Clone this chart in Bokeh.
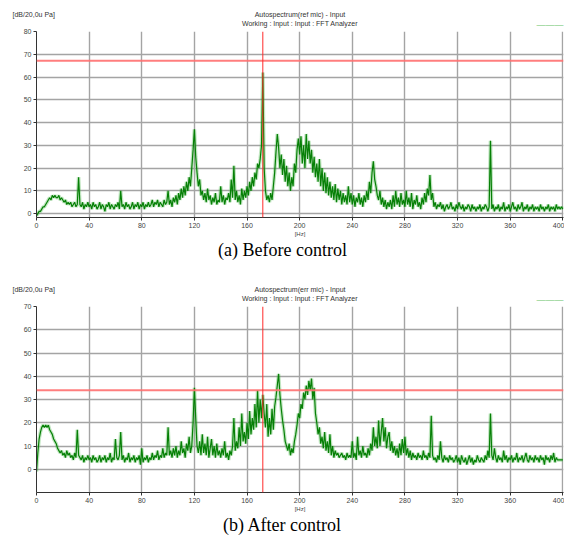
from bokeh.plotting import figure
from bokeh.models import Range1d, FixedTicker, Span, Label
from bokeh.layouts import column
from bokeh.embed import file_html
from bokeh.resources import INLINE

# ---------------- data ----------------
freq_hz = list(range(0, 401))

ref_mic_db = [
    -1, 0, 1, 1, 2, 3, 3, 4, 5, 6, 7, 6, 8, 7, 8, 7, 7, 8, 6, 7,
    6, 5, 6, 4, 5, 4, 5, 3, 4, 5, 3, 4, 16, 4, 3, 5, 2, 4, 3, 5,
    3, 4, 2, 5, 3, 4, 2, 3, 5, 2, 4, 3, 1, 4, 3, 5, 2, 4, 3, 2,
    4, 3, 5, 2, 10, 3, 4, 2, 5, 3, 4, 2, 3, 5, 2, 4, 3, 5, 2, 4,
    3, 5, 2, 4, 3, 5, 3, 4, 6, 3, 5, 4, 6, 3, 5, 4, 3, 6, 4, 5,
    10, 4, 6, 3, 7, 5, 8, 4, 9, 6, 11, 7, 12, 8, 14, 10, 16, 12, 20, 28,
    37, 25, 18, 12, 15, 8, 10, 6, 9, 5, 11, 6, 8, 4, 7, 5, 9, 4, 6, 5,
    12, 5, 8, 4, 7, 6, 9, 5, 15, 7, 21, 6, 10, 5, 8, 4, 11, 6, 10, 7,
    12, 8, 14, 10, 16, 12, 18, 15, 22, 20, 24, 30, 62, 20, 10, 6, 8, 5, 9, 6,
    12, 18, 27, 35, 29, 20, 26, 17, 24, 14, 21, 12, 18, 10, 16, 12, 22, 18, 28, 33,
    26, 34, 22, 30, 20, 35, 24, 32, 22, 28, 18, 25, 16, 22, 14, 24, 12, 20, 10, 18,
    9, 16, 8, 14, 7, 12, 6, 13, 5, 11, 6, 10, 4, 9, 5, 8, 4, 12, 5, 9,
    4, 8, 3, 7, 5, 9, 4, 7, 3, 8, 5, 10, 6, 14, 9, 18, 23, 15, 12, 8,
    6, 10, 4, 7, 3, 6, 2, 5, 3, 6, 2, 8, 3, 10, 4, 7, 3, 9, 4, 6,
    3, 10, 4, 7, 3, 9, 2, 6, 4, 8, 3, 5, 2, 7, 4, 9, 5, 11, 8, 17,
    6, 9, 3, 5, 2, 4, 3, 5, 2, 4, 1, 3, 4, 2, 3, 5, 2, 3, 1, 4,
    2, 5, 3, 2, 4, 1, 3, 2, 4, 3, 1, 4, 2, 3, 1, 3, 2, 4, 1, 3,
    2, 4, 3, 1, 3, 32, 2, 4, 1, 3, 2, 4, 1, 3, 2, 5, 1, 3, 2, 4,
    1, 3, 5, 2, 3, 1, 4, 2, 3, 5, 1, 3, 2, 4, 1, 3, 2, 4, 1, 3,
    2, 3, 1, 4, 2, 3, 1, 3, 2, 4, 1, 3, 2, 3, 1, 4, 2, 3, 2, 3,
    2,
]

err_mic_db = [
    -1, 7, 13, 16, 18, 19, 18, 19, 18, 19, 17, 16, 15, 13, 12, 11, 9, 8, 7, 8,
    6, 7, 5, 8, 6, 7, 5, 6, 4, 7, 5, 17, 6, 5, 4, 6, 3, 5, 4, 6,
    4, 5, 3, 6, 4, 5, 3, 4, 6, 3, 5, 4, 6, 3, 5, 4, 7, 3, 5, 4,
    13, 5, 4, 6, 16, 4, 6, 3, 5, 4, 7, 3, 5, 4, 6, 3, 5, 4, 6, 2,
    9, 3, 5, 4, 6, 3, 5, 4, 7, 4, 6, 5, 8, 4, 6, 5, 9, 5, 7, 6,
    18, 6, 8, 5, 9, 6, 10, 5, 8, 6, 12, 7, 9, 5, 11, 8, 14, 7, 10, 20,
    35, 22, 10, 7, 12, 6, 15, 7, 11, 6, 14, 5, 9, 13, 6, 10, 5, 11, 6, 8,
    5, 9, 6, 12, 5, 7, 4, 8, 6, 10, 22, 8, 12, 9, 18, 10, 24, 12, 16, 11,
    20, 13, 25, 15, 22, 17, 28, 18, 34, 20, 30, 22, 32, 24, 18, 28, 14, 22, 15, 26,
    17, 27, 31, 36, 41, 32, 26, 21, 17, 12, 10, 8, 11, 6, 9, 7, 12, 15, 19, 24,
    22, 28, 26, 33, 30, 36, 32, 38, 34, 39, 30, 35, 24, 20, 15, 18, 11, 14, 9, 16,
    8, 12, 7, 15, 6, 10, 5, 8, 6, 7, 5, 6, 7, 5, 6, 4, 7, 5, 6, 5,
    12, 5, 7, 4, 14, 6, 8, 5, 10, 6, 7, 5, 9, 6, 11, 8, 18, 10, 14, 9,
    21, 10, 16, 22, 12, 18, 9, 14, 16, 8, 12, 7, 10, 6, 9, 5, 11, 6, 13, 7,
    14, 6, 9, 5, 8, 4, 7, 5, 6, 4, 7, 5, 6, 4, 8, 5, 6, 4, 7, 5,
    23, 6, 4, 5, 3, 6, 4, 12, 5, 3, 6, 4, 5, 3, 6, 4, 5, 3, 4, 6,
    3, 5, 2, 6, 4, 3, 5, 2, 4, 6, 3, 5, 2, 4, 3, 6, 4, 3, 5, 4,
    3, 6, 4, 8, 5, 24, 6, 4, 9, 5, 3, 6, 4, 5, 3, 8, 4, 6, 3, 5,
    4, 6, 3, 5, 4, 7, 3, 5, 4, 6, 3, 5, 7, 4, 3, 6, 4, 5, 3, 6,
    4, 5, 3, 6, 4, 5, 2, 6, 4, 5, 3, 6, 4, 7, 3, 5,
    4, 4, 4, 4, 4,
]

x_ticks = [0, 40, 80, 120, 160, 200, 240, 280, 320, 360, 400]
ref_y_ticks = [0, 10, 20, 30, 40, 50, 60, 70, 80]
err_y_ticks = [0, 10, 20, 30, 40, 50, 60, 70]
marker_freq = 172
ref_level = 67.2
err_level = 34.0
unit_text = "[dB/20,0u Pa]"
sub_title = "Working : Input : Input : FFT Analyzer"
ref_title = "Autospectrum(ref mic) - Input"
err_title = "Autospectrum(err mic) - Input"
ref_caption = "(a) Before control"
err_caption = "(b) After control"

assert len(ref_mic_db) == len(freq_hz), len(ref_mic_db)
assert len(err_mic_db) == len(freq_hz), len(err_mic_db)

FW, FH = 527, 186
SANS = "Liberation Sans"


def lab(text, x, y, align="left", size="7px", font=SANS, color="#333333", alpha=1.0):
    return Label(x=x, y=y, x_units="screen", y_units="screen", text=text,
                 text_align=align, text_baseline="middle", text_font=font,
                 text_font_size=size, text_color=color, text_alpha=alpha)


def panel(values, y0, y1, yticks, level, title, caption, top, bottom):
    p = figure(frame_width=FW, frame_height=FH, output_backend="svg",
               toolbar_location=None,
               x_range=Range1d(0, 400.5), y_range=Range1d(y0, y1),
               min_border_left=36, min_border_right=1,
               min_border_top=top, min_border_bottom=bottom)
    p.outline_line_color = None
    p.background_fill_color = "white"

    # grid
    p.xgrid.ticker = FixedTicker(ticks=x_ticks[1:])
    p.ygrid.ticker = FixedTicker(ticks=yticks[:-1])
    for g in (p.xgrid[0], p.ygrid[0]):
        g.grid_line_color = "#a4a4a4"
        g.grid_line_width = 1.4

    # axes
    for ax in (p.xaxis[0], p.yaxis[0]):
        ax.axis_line_color = "#333333"
        ax.major_tick_line_color = "#333333"
        ax.major_tick_in = 0
        ax.major_tick_out = 3
        ax.minor_tick_line_color = None
        ax.major_label_text_font = SANS
        ax.major_label_text_font_size = "7px"
        ax.major_label_text_color = "#444444"
        ax.major_label_standoff = 2
    p.xaxis.ticker = FixedTicker(ticks=x_ticks)
    p.yaxis.ticker = FixedTicker(ticks=yticks)
    p.xaxis.axis_label = "[Hz]"
    p.xaxis.axis_label_text_font = SANS
    p.xaxis.axis_label_text_font_size = "6px"
    p.xaxis.axis_label_text_font_style = "normal"
    p.xaxis.axis_label_text_color = "#444444"
    p.xaxis.axis_label_standoff = 0

    # spectrum trace
    p.line(freq_hz, values, line_color="#4cb84c", line_width=3.6, line_alpha=0.35)
    p.line(freq_hz, values, line_color="#078007", line_width=1.2)

    # red cursor lines
    p.add_layout(Span(location=level, dimension="width",
                      line_color="#ff7070", line_width=2, line_alpha=0.9))
    p.add_layout(Span(location=marker_freq, dimension="height",
                      line_color="#ff2a2a", line_width=1))

    # texts in side panels (stacked outward from the frame, ~7px each)
    p.add_layout(lab(title, FW / 2, 17, align="center"), "above")
    p.add_layout(lab(unit_text, -24, 10), "above")
    p.add_layout(lab(sub_title, FW / 2, -6, align="center"), "above")
    p.add_layout(lab("\u2014\u2014\u2014", 500, -14, size="9px", color="#3cb43c", alpha=0.8), "above")
    p.add_layout(lab(caption, 246, 10, align="center", size="18px",
                     font="Liberation Serif", color="black"), "below")
    return p


p1 = panel(ref_mic_db, -1.7, 80, ref_y_ticks, ref_level, ref_title, ref_caption, 31, 58)
p2 = panel(err_mic_db, -10, 70, err_y_ticks, err_level, err_title, err_caption, 31, 47)

layout = column(p1, p2)
open("out.html", "w").write(file_html(layout, INLINE))
